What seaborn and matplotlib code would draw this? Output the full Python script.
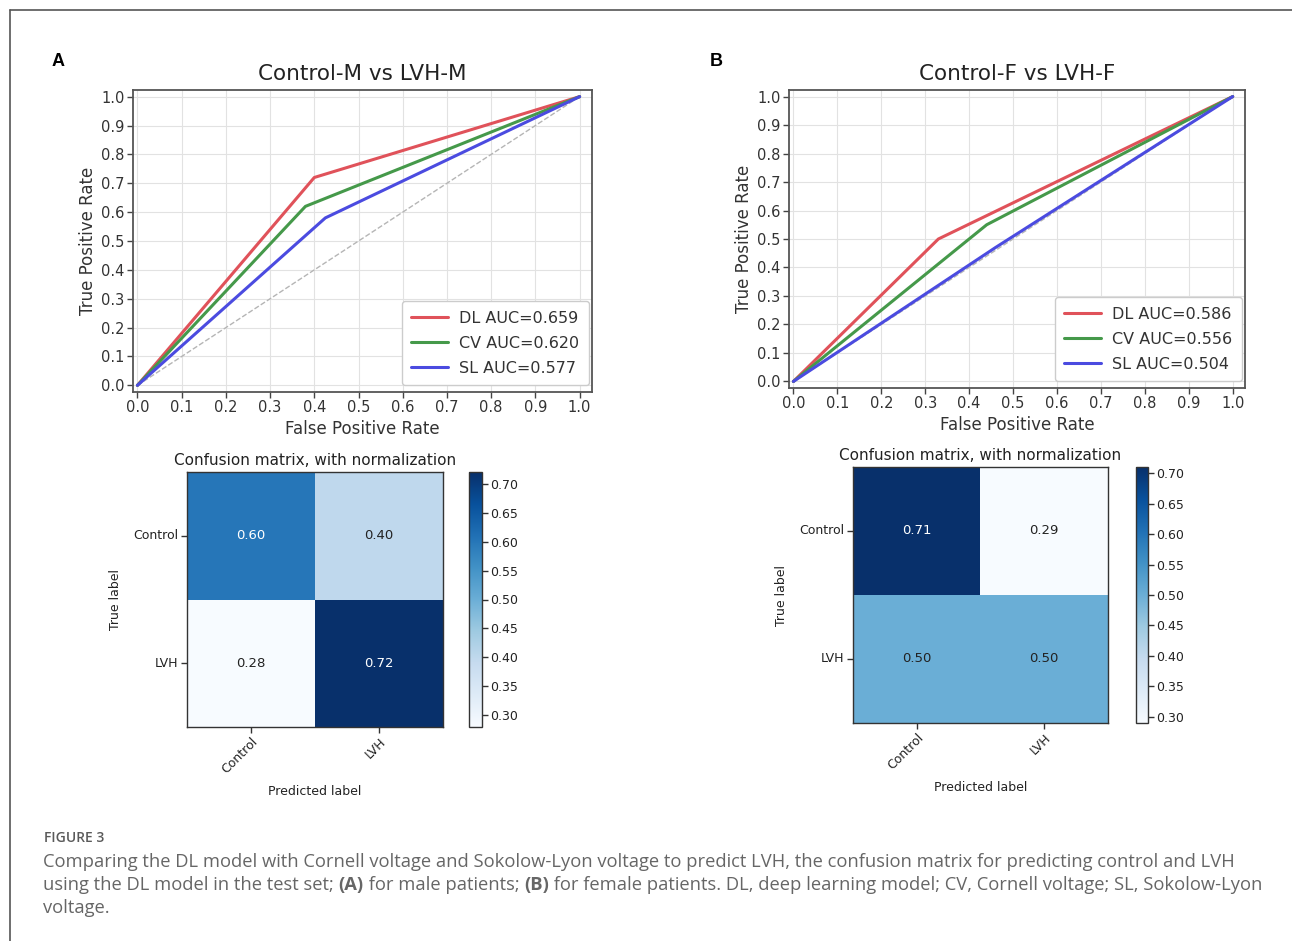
import numpy as np
import seaborn as sns
import matplotlib.pyplot as plt

sns.set_theme(style="whitegrid")
plt.rcParams['font.family'] = ['DejaVu Sans']

W, H = 1292, 941

# ROC curves, male patients (panel A)
fpr_dl_m = [0.0, 0.40, 1.0]
tpr_dl_m = [0.0, 0.72, 1.0]
fpr_cv_m = [0.0, 0.38, 1.0]
tpr_cv_m = [0.0, 0.62, 1.0]
fpr_sl_m = [0.0, 0.425, 1.0]
tpr_sl_m = [0.0, 0.58, 1.0]
auc_m = [0.659, 0.620, 0.577]

# ROC curves, female patients (panel B)
fpr_dl_f = [0.0, 0.33, 1.0]
tpr_dl_f = [0.0, 0.50, 1.0]
fpr_cv_f = [0.0, 0.44, 1.0]
tpr_cv_f = [0.0, 0.55, 1.0]
fpr_sl_f = [0.0, 0.46, 1.0]
tpr_sl_f = [0.0, 0.47, 1.0]
auc_f = [0.586, 0.556, 0.504]

model_names = ["DL", "CV", "SL"]
line_colors = ["#e0525a", "#45994a", "#4b4be0"]

# normalized confusion matrices
class_labels = ["Control", "LVH"]
cm_m = np.array([[0.60, 0.40], [0.28, 0.72]])
cm_f = np.array([[0.71, 0.29], [0.50, 0.50]])

caption_head = "FIGURE 3"
caption_lines = [
    [("Comparing the DL model with Cornell voltage and Sokolow-Lyon voltage to predict LVH, the confusion matrix for predicting control and LVH", "normal")],
    [("using the DL model in the test set; ", "normal"), ("(A)", "bold"), (" for male patients; ", "normal"),
     ("(B)", "bold"), (" for female patients. DL, deep learning model; CV, Cornell voltage; SL, Sokolow-Lyon", "normal")],
    [("voltage.", "normal")],
]

fig = plt.figure(figsize=(W / 100, H / 100), dpi=100)


def box(l, t, r, b):
    return fig.add_axes([l / W, 1 - b / H, (r - l) / W, (b - t) / H])


def roc_panel(ax, title, fprs, tprs, aucs):
    ax.plot([0, 1], [0, 1], ls="--", color="#b5b5b5", lw=1, zorder=1)
    for name, fpr, tpr, auc, col in zip(model_names, fprs, tprs, aucs, line_colors):
        sns.lineplot(x=fpr, y=tpr, ax=ax, color=col, lw=2.2, sort=False,
                     estimator=None, label=f"{name} AUC={auc:.3f}")
    ax.set_xlim(-0.01, 1.028)
    ax.set_ylim(-0.023, 1.023)
    ticks = np.round(np.arange(0, 1.01, 0.1), 1)
    ax.set_xticks(ticks)
    ax.set_yticks(ticks)
    ax.set_xticklabels([f"{t:.1f}" for t in ticks])
    ax.set_yticklabels([f"{t:.1f}" for t in ticks])
    ax.tick_params(bottom=True, left=True, length=4, width=1, color="#444444",
                   labelsize=10.5, labelcolor="#333333", pad=2)
    ax.grid(True, color="#e2e2e2", lw=0.8)
    for s in ax.spines.values():
        s.set_color("#555555")
        s.set_linewidth(1.3)
    ax.set_title(title, fontsize=15.5, color="#222222", pad=7)
    ax.set_xlabel("False Positive Rate", fontsize=12, color="#333333", labelpad=3)
    ax.set_ylabel("True Positive Rate", fontsize=12, color="#333333", labelpad=3)
    ax.legend(loc="lower right", bbox_to_anchor=(1.0, 0.012), fontsize=11.5,
              handlelength=2.3, handletextpad=0.7, labelspacing=0.62, borderpad=0.6,
              frameon=True, edgecolor="#cccccc", framealpha=1, fancybox=True,
              borderaxespad=0.2, labelcolor="#333333")


def cm_panel(ax, cax, cm):
    vmin, vmax = cm.min(), cm.max()
    sns.heatmap(cm, ax=ax, cbar_ax=cax, cmap="Blues", vmin=vmin, vmax=vmax,
                annot=True, fmt=".2f", annot_kws={"size": 9.5},
                xticklabels=class_labels, yticklabels=class_labels)
    thresh = (vmin + vmax) / 2
    for txt, val in zip(ax.texts, cm.flatten()):
        txt.set_color("white" if val > thresh else "#222222")
    for s in ax.spines.values():
        s.set_visible(True)
        s.set_color("#333333")
        s.set_linewidth(1)
    ax.tick_params(bottom=True, left=True, length=4, width=1, color="#333333",
                   labelsize=9, labelcolor="#222222", pad=2)
    ax.set_yticklabels(class_labels, rotation=0)
    ax.set_xticklabels(class_labels, rotation=45, ha="right", rotation_mode="anchor")
    ax.set_title("Confusion matrix, with normalization", fontsize=11, color="#222222", pad=5)
    ax.set_xlabel("Predicted label", fontsize=9, color="#222222", labelpad=6)
    ax.set_ylabel("True label", fontsize=9, color="#222222", labelpad=8)
    cb = ax.collections[0].colorbar
    cb.outline.set_visible(True)
    cb.outline.set_linewidth(1)
    cb.outline.set_edgecolor("#333333")
    cb.set_ticks(np.round(np.arange(0.30, 0.701, 0.05), 2))
    cb.ax.set_yticklabels([f"{t:.2f}" for t in np.arange(0.30, 0.701, 0.05)])
    cb.ax.tick_params(right=True, length=4, width=1, color="#333333",
                      labelsize=9, labelcolor="#222222", pad=2)


ax_a = box(133, 90, 592, 392)
roc_panel(ax_a, "Control-M vs LVH-M", [fpr_dl_m, fpr_cv_m, fpr_sl_m],
          [tpr_dl_m, tpr_cv_m, tpr_sl_m], auc_m)
ax_b = box(789, 90, 1245, 388)
roc_panel(ax_b, "Control-F vs LVH-F", [fpr_dl_f, fpr_cv_f, fpr_sl_f],
          [tpr_dl_f, tpr_cv_f, tpr_sl_f], auc_f)

cm_panel(box(187, 472, 443, 727), box(469, 472, 482, 727), cm_m)
cm_panel(box(853, 467, 1108, 723), box(1136, 467, 1148, 723), cm_f)

# panel letters
fig.text(58 / W, 1 - 62 / H, "A", fontsize=13, fontweight="bold", family="Liberation Sans",
         ha="center", va="center", color="black")
fig.text(716 / W, 1 - 62 / H, "B", fontsize=13, fontweight="bold", family="Liberation Sans",
         ha="center", va="center", color="black")

# frame lines top and left
fig.add_artist(plt.Line2D([10 / W, 1], [1 - 10 / H, 1 - 10 / H], color="#555555", lw=1.2))
fig.add_artist(plt.Line2D([10 / W, 10 / W], [0, 1 - 10 / H], color="#555555", lw=1.2))

# caption
fig.text(44 / W, 1 - 842 / H, caption_head, fontsize=10, fontweight="semibold",
         family="Open Sans", color="#5a5a5a", va="baseline")

renderer = fig.canvas.get_renderer()


def run_width(s, weight, size):
    t1 = fig.text(0, 0, s + "|", fontsize=size, fontweight=weight, family="Open Sans")
    t2 = fig.text(0, 0, "|", fontsize=size, fontweight=weight, family="Open Sans")
    w = t1.get_window_extent(renderer).width - t2.get_window_extent(renderer).width
    t1.remove()
    t2.remove()
    return w


cap_size = 13.2
for line, base in zip(caption_lines, [867, 890, 913]):
    x = 43
    for s, weight in line:
        fig.text(x / W, 1 - base / H, s, fontsize=cap_size, fontweight=weight,
                 family="Open Sans", color="#666666", va="baseline")
        x += run_width(s, weight, cap_size)

fig.savefig("out.png", dpi=100)
